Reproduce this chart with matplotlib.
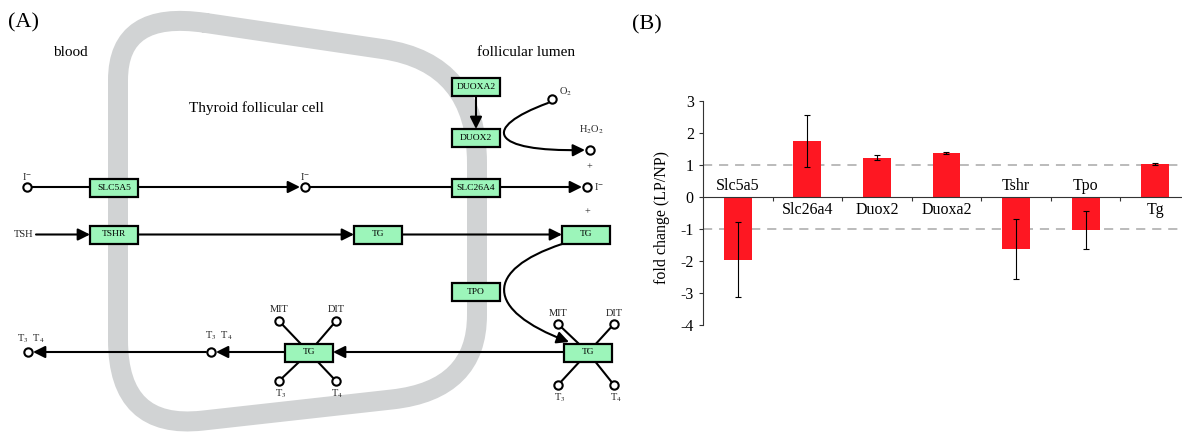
import numpy as np
import matplotlib
matplotlib.use('Agg')
import matplotlib.pyplot as plt
from matplotlib.patches import Rectangle, FancyArrowPatch, PathPatch
from matplotlib.path import Path

plt.rcParams['font.family'] = ['Liberation Serif', 'DejaVu Serif']
plt.rcParams['mathtext.fontset'] = 'stix'
plt.rcParams['axes.unicode_minus'] = False

# ---- panel B data ----
genes = ['Slc5a5', 'Slc26a4', 'Duox2', 'Duoxa2', 'Tshr', 'Tpo', 'Tg']
fold_change = [-1.95, 1.75, 1.23, 1.37, -1.61, -1.03, 1.03]
fold_err = [1.17, 0.81, 0.08, 0.03, 0.94, 0.60, 0.03]
yticks = [-4, -3, -2, -1, 0, 1, 2, 3]

# ---- panel A diagram layout (pixel positions) ----
membrane_corners = [(118, 10), (477, 63), (477, 390), (118, 430)]
corner_cut = [(70, 88), (95, 100), (75, 85), (85, 90)]

box_labels = ['SLC5A5', 'TSHR', 'DUOXA2', 'DUOX2', 'SLC26A4', 'TG', 'TG', 'TPO', 'TG', 'TG']
box_x = [114, 114, 476, 476, 476, 378, 586, 476, 588, 309]
box_y = [187.5, 234.5, 87, 138, 187.5, 234.5, 234.5, 292, 352.5, 352.5]
box_w, box_h = 48, 18

circle_x = [27, 305, 587, 552, 590, 211, 28,
            279, 336, 279, 336, 558, 614, 558, 614]
circle_y = [187, 187, 187, 99, 150, 352, 352,
            321, 321, 381, 381, 324, 324, 385, 385]

# straight arrows (x0, y0, x1, y1)
arrows = [(138, 187, 300, 187), (500, 187, 582, 187),
          (36, 234.5, 90, 234.5), (138, 234.5, 354, 234.5), (402, 234.5, 562, 234.5),
          (476, 96, 476, 129),
          (564, 352, 333, 352), (285, 352, 216, 352), (206, 352, 33, 352)]
# plain lines
lines = [(31, 187, 90, 187), (310, 187, 452, 187),
         (279, 321, 309, 352.5), (336, 321, 309, 352.5), (279, 381, 309, 352.5), (336, 381, 309, 352.5),
         (558, 324, 588, 352.5), (614, 324, 588, 352.5), (558, 385, 588, 352.5), (614, 385, 588, 352.5)]
# curved arrows (cubic bezier control points)
curves = [[(548, 103), (480, 128), (490, 152), (585, 150)],
          [(562, 244), (484, 270), (484, 310), (569, 342)]]

small_text = [('I$^{-}$', 27, 176, 'center'), ('I$^{-}$', 305, 176, 'center'), ('I$^{-}$', 594, 186, 'left'),
              ('O$_2$', 559, 92, 'left'), ('H$_2$O$_2$', 591, 130, 'center'),
              ('+', 589, 167, 'center'), ('+', 587, 212, 'center'),
              ('TSH', 24, 234.5, 'center'),
              ('T$_3$  T$_4$', 31, 339, 'center'), ('T$_3$  T$_4$', 219, 336, 'center'),
              ('MIT', 279, 309, 'center'), ('DIT', 336, 309, 'center'),
              ('T$_3$', 281, 394, 'center'), ('T$_4$', 337, 394, 'center'),
              ('MIT', 558, 313, 'center'), ('DIT', 614, 313, 'center'),
              ('T$_3$', 560, 398, 'center'), ('T$_4$', 616, 398, 'center')]

big_text = [('blood', 70, 52), ('follicular lumen', 526, 52), ('Thyroid follicular cell', 256, 108)]

fig = plt.figure(figsize=(11.82, 4.32), dpi=100)

# ---------- panel A ----------
axA = fig.add_axes([0, 0, 1, 1])
axA.set_xlim(0, 1182)
axA.set_ylim(432, 0)
axA.axis('off')

# membrane: closed path with rounded corners
pts = np.array(membrane_corners, dtype=float)
n = len(pts)
starts, ends = [], []
for i in range(n):
    c = pts[i]
    prv = pts[i - 1]
    nxt = pts[(i + 1) % n]
    u1 = (prv - c) / np.linalg.norm(prv - c)
    u2 = (nxt - c) / np.linalg.norm(nxt - c)
    starts.append(c + corner_cut[i][0] * u1)
    ends.append(c + corner_cut[i][1] * u2)
verts = [ends[0]]
codes = [Path.MOVETO]
for i in list(range(1, n)) + [0]:
    verts += [starts[i], pts[i], ends[i]]
    codes += [Path.LINETO, Path.CURVE3, Path.CURVE3]
axA.add_patch(PathPatch(Path(verts, codes), fill=False, edgecolor='#d1d3d4',
                        lw=14.4, capstyle='round', joinstyle='round', zorder=0))

for x0, y0, x1, y1 in lines:
    axA.plot([x0, x1], [y0, y1], color='black', lw=1.5, zorder=2)

for x0, y0, x1, y1 in arrows:
    axA.add_patch(FancyArrowPatch((x0, y0), (x1, y1), arrowstyle='-|>,head_length=0.4,head_width=0.2',
                                  mutation_scale=18, color='black', lw=1.5, shrinkA=0, shrinkB=0, zorder=2))

for c in curves:
    p = Path(c, [Path.MOVETO, Path.CURVE4, Path.CURVE4, Path.CURVE4])
    axA.add_patch(FancyArrowPatch(path=p, arrowstyle='-|>,head_length=0.4,head_width=0.2',
                                  mutation_scale=18, color='black', lw=1.5, zorder=2))

for lab, bx, by in zip(box_labels, box_x, box_y):
    axA.add_patch(Rectangle((bx - box_w / 2, by - box_h / 2), box_w, box_h,
                            facecolor='#9cf5ba', edgecolor='black', lw=1.6, zorder=5))
    axA.text(bx, by, lab, ha='center', va='center', fontsize=6.8, zorder=6)

axA.plot(circle_x, circle_y, 'o', ms=6, mfc='white', mec='black', mew=1.5, zorder=4)

for t, x, y, ha in small_text:
    axA.text(x, y, t, ha=ha, va='center', fontsize=7.5, color='#222222')

for t, x, y in big_text:
    axA.text(x, y, t, ha='center', va='center', fontsize=11)

axA.text(8, 23, '(A)', ha='left', va='center', fontsize=16)
axA.text(632, 25, '(B)', ha='left', va='center', fontsize=16)

# ---------- panel B ----------
axB = fig.add_axes([703 / 1182, 1 - 325.4 / 432, (1182 - 703) / 1182, (325.4 - 100.7) / 432])
axB.patch.set_alpha(0)
xpos = np.arange(len(genes)) + 0.5
axB.axhline(1, color='#a8a8a8', lw=1.1, dashes=(6, 4.5), zorder=1)
axB.axhline(-1, color='#a8a8a8', lw=1.1, dashes=(6, 4.5), zorder=1)
axB.bar(xpos, fold_change, width=0.4, color='#fe1722', zorder=2)
axB.errorbar(xpos, fold_change, yerr=fold_err, fmt='none', ecolor='black',
             elinewidth=0.8, capsize=2.5, capthick=0.8, zorder=3)

axB.set_xlim(0, 6.886)
axB.set_ylim(-4, 3)
axB.spines['top'].set_visible(False)
axB.spines['right'].set_visible(False)
axB.spines['bottom'].set_position(('data', 0))
axB.spines['bottom'].set_color('#333333')
axB.spines['left'].set_color('#333333')
axB.set_yticks(yticks)
axB.set_xticks(np.arange(1, len(genes)))
axB.set_xticklabels([])
axB.tick_params(axis='y', length=3, pad=3.6, labelsize=11.5, color='#333333')
axB.tick_params(axis='x', length=3, color='#333333')

for g, x, v in zip(genes, xpos, fold_change):
    off = 8 if v < 0 else -9.5
    axB.annotate(g, (x, 0), xytext=(0, off), textcoords='offset points',
                 ha='center', va='center', fontsize=11.5)

axB.set_ylabel('fold change (LP/NP)', fontsize=11.5)
axB.yaxis.set_label_coords(-0.068, 0.48)

fig.savefig('out.png', dpi=100)
